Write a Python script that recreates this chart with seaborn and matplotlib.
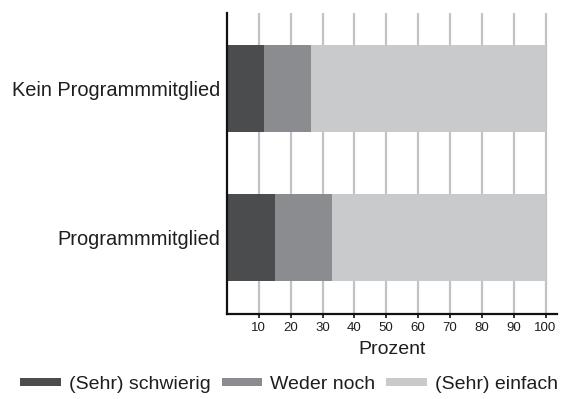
import matplotlib
matplotlib.use("Agg")
import matplotlib.pyplot as plt
import seaborn as sns
import pandas as pd
import numpy as np
from matplotlib.patches import Patch

# Survey answers per group, in percent
groups = ["Kein Programmmitglied", "Programmmitglied"]
schwierig = [11.5, 15.0]
weder_noch = [15.0, 18.0]
einfach = [73.5, 67.0]
answer_labels = ["(Sehr) schwierig", "Weder noch", "(Sehr) einfach"]
x_ticks = [10, 20, 30, 40, 50, 60, 70, 80, 90, 100]

colors = ["#4b4c4e", "#8b8c8f", "#c9cacc"]
text_color = "#1e1e1e"

sns.set_theme(style="white")
plt.rcParams["font.family"] = ["Liberation Sans", "DejaVu Sans"]

df = pd.DataFrame({
    "Gruppe": groups,
    "schwierig": schwierig,
    "weder": weder_noch,
    "einfach": einfach,
})
# cumulative ends of the stacked segments
df["end_schwierig"] = df["schwierig"]
df["end_weder"] = df["schwierig"] + df["weder"]
df["end_einfach"] = df["end_weder"] + df["einfach"]

fig = plt.figure(figsize=(5.63, 3.99), dpi=100)
ax = fig.add_axes([227 / 563, 1 - 313.5 / 399, (557 - 227) / 563, (313.5 - 13) / 399])

bar_width = 0.584
# draw from the outermost segment inwards so each shorter bar sits on top
for col, c in zip(["end_einfach", "end_weder", "end_schwierig"], colors[::-1]):
    sns.barplot(data=df, x=col, y="Gruppe", order=groups, orient="h",
                color=c, saturation=1, width=bar_width, ax=ax,
                linewidth=0, zorder=3)

ax.set_xlim(0, 103.6)
ax.set_ylim(1.51, -0.507)
ax.set_xticks(x_ticks)
ax.set_xticklabels([str(t) for t in x_ticks])

ax.set_axisbelow(True)
ax.xaxis.grid(True, color="#c2c2c6", linewidth=1.6, zorder=0)
ax.yaxis.grid(False)

for side in ["top", "right"]:
    ax.spines[side].set_visible(False)
for side in ["left", "bottom"]:
    ax.spines[side].set_color("#111111")
    ax.spines[side].set_linewidth(1.6)
    ax.spines[side].set_zorder(5)

ax.tick_params(axis="x", length=3, width=1.2, color="#111111", bottom=True,
               labelsize=9.5, pad=3, labelcolor=text_color)
ax.tick_params(axis="y", length=0, pad=5, labelsize=14.4, labelcolor=text_color)

ax.set_ylabel("")
ax.set_xlabel("Prozent", fontsize=14, color=text_color, labelpad=5)

handles = [Patch(facecolor=c, edgecolor="none", label=l) for c, l in zip(colors, answer_labels)]
fig.legend(handles=handles, loc="center", bbox_to_anchor=(289 / 563, 1 - 384.5 / 399),
           ncol=3, frameon=False, fontsize=14, handlelength=2.1, handleheight=0.3,
           handletextpad=0.4, columnspacing=0.55, borderpad=0, borderaxespad=0,
           labelcolor=text_color)

fig.savefig("out.png", dpi=100)
